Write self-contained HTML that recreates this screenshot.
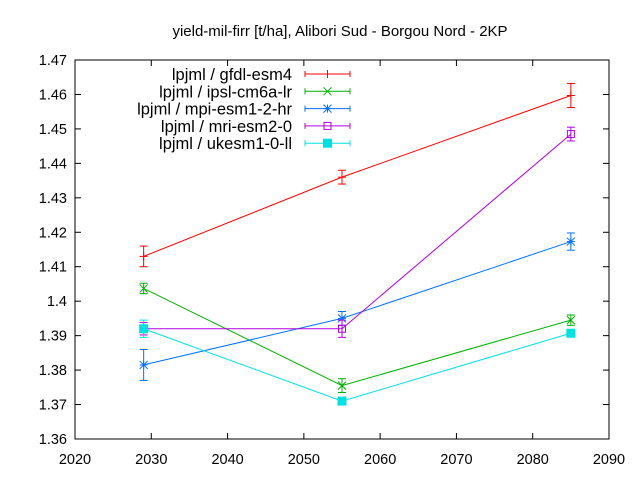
<!DOCTYPE html>
<html><head><meta charset="utf-8"><style>
html,body{margin:0;padding:0;background:#fff;}
svg{display:block;font-family:"Liberation Sans",sans-serif;}
</style></head><body>
<svg id="chart" width="640" height="480" viewBox="0 0 640 480" xmlns="http://www.w3.org/2000/svg">
<rect width="640" height="480" fill="#fff"/>
<text x="340" y="36" font-size="15" text-anchor="middle">yield-mil-firr [t/ha], Alibori Sud - Borgou Nord - 2KP</text>
<g id="axes"></g><g id="series"></g><g id="legend"></g>
</svg>
<script>
const years = [2029, 2055, 2085];
const seriesNames = ["lpjml / gfdl-esm4","lpjml / ipsl-cm6a-lr","lpjml / mpi-esm1-2-hr","lpjml / mri-esm2-0","lpjml / ukesm1-0-ll"];
const gfdl = [1.413, 1.436, 1.4597];
const gfdlErr = [0.003, 0.002, 0.0035];
const ipsl = [1.4037, 1.3755, 1.3945];
const ipslErr = [0.0015, 0.002, 0.0015];
const mpi = [1.3815, 1.395, 1.4173];
const mpiErr = [0.0045, 0.002, 0.0025];
const mri = [1.392, 1.392, 1.4485];
const mriErr = [0.0018, 0.0025, 0.002];
const ukesm = [1.392, 1.371, 1.3907];
const ukesmErr = [0.0025, 0.001, 0.001];
const xTicks = [2020,2030,2040,2050,2060,2070,2080,2090];
const yTicks = [1.36,1.37,1.38,1.39,1.4,1.41,1.42,1.43,1.44,1.45,1.46,1.47];

const L=75,R=609,T=60,B=439;
const xs = v => L + (v-2020)/(2090-2020)*(R-L);
const ys = v => B - (v-1.36)/(1.47-1.36)*(B-T);
const NS="http://www.w3.org/2000/svg";
function mk(tag, attrs, parent){const e=document.createElementNS(NS,tag);for(const k in attrs)e.setAttribute(k,attrs[k]);parent.appendChild(e);return e;}
const axes=document.getElementById('axes');
const frame=mk('rect',{x:L,y:T,width:R-L,height:B-T,fill:'none',stroke:'#000','stroke-width':1},axes);


xTicks.forEach(t=>{
  const x=xs(t);
  mk('line',{x1:x,y1:B,x2:x,y2:B-6,stroke:'#000'},axes);
  mk('line',{x1:x,y1:T,x2:x,y2:T+6,stroke:'#000'},axes);
  const tx=mk('text',{x:x,y:B+25,'font-size':14.5,'text-anchor':'middle'},axes);
  tx.textContent=t;
  
  
});
yTicks.forEach(t=>{
  const y=ys(t);
  mk('line',{x1:L,y1:y,x2:L+6,y2:y,stroke:'#000'},axes);
  mk('line',{x1:R,y1:y,x2:R-6,y2:y,stroke:'#000'},axes);
  const tx=mk('text',{x:L-8,y:y+5,'font-size':14.5,'text-anchor':'end'},axes);
  tx.textContent=(+t.toFixed(2)).toString();
  
  
});
const colors=['#ff0000','#00b000','#0070ff','#b000e0','#00e0e0'];
const vals=[gfdl,ipsl,mpi,mri,ukesm];
const errs=[gfdlErr,ipslErr,mpiErr,mriErr,ukesmErr];
const markers=['plus','x','star','box','fbox'];
function marker(type,x,y,c,g){
  if(type==='plus'){mk('line',{x1:x-4,y1:y,x2:x+4,y2:y,stroke:c},g);mk('line',{x1:x,y1:y-4,x2:x,y2:y+4,stroke:c},g);}
  else if(type==='x'){mk('line',{x1:x-4,y1:y-4,x2:x+4,y2:y+4,stroke:c},g);mk('line',{x1:x-4,y1:y+4,x2:x+4,y2:y-4,stroke:c},g);}
  else if(type==='star'){mk('line',{x1:x-4,y1:y-4,x2:x+4,y2:y+4,stroke:c},g);mk('line',{x1:x-4,y1:y+4,x2:x+4,y2:y-4,stroke:c},g);mk('line',{x1:x-4,y1:y,x2:x+4,y2:y,stroke:c},g);mk('line',{x1:x,y1:y-4,x2:x,y2:y+4,stroke:c},g);}
  else if(type==='box'){mk('rect',{x:x-3.5,y:y-3.5,width:7,height:7,fill:'none',stroke:c},g);}
  else {mk('rect',{x:x-4,y:y-4,width:8,height:8,fill:c,stroke:c},g);}
}
const sg=document.getElementById('series');
vals.forEach((v,i)=>{
  const g=mk('g',{},sg);
  
  
  const c=colors[i];
  mk('polyline',{points:years.map((y,j)=>xs(y)+','+ys(v[j])).join(' '),fill:'none',stroke:c,'stroke-width':1},g);
  years.forEach((yr,j)=>{
    const x=xs(yr),y1=ys(v[j]-errs[i][j]),y2=ys(v[j]+errs[i][j]);
    mk('line',{x1:x,y1:y1,x2:x,y2:y2,stroke:c},g);
    mk('line',{x1:x-4,y1:y1,x2:x+4,y2:y1,stroke:c},g);
    mk('line',{x1:x-4,y1:y2,x2:x+4,y2:y2,stroke:c},g);
    marker(markers[i],x,ys(v[j]),c,g);
  });
});
const lg=document.getElementById('legend');
seriesNames.forEach((n,i)=>{
  const y=74+i*17.3, c=colors[i];
  const g=mk('g',{},lg);
  
  
  const t=mk('text',{x:292,y:y+6,'font-size':16.5,'text-anchor':'end'},g);
  t.textContent=n;
  mk('line',{x1:305,y1:y,x2:350,y2:y,stroke:c},g);
  mk('line',{x1:305,y1:y-3,x2:305,y2:y+3,stroke:c},g);
  mk('line',{x1:350,y1:y-3,x2:350,y2:y+3,stroke:c},g);
  marker(markers[i],327.5,y,c,g);
});
</script>
</body></html>
